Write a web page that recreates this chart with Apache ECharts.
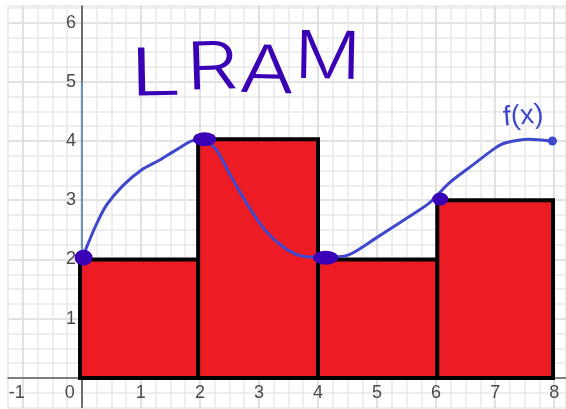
<!DOCTYPE html>
<html>
<head>
<meta charset="utf-8">
<style>html,body{margin:0;padding:0;background:#fff}#c{width:566px;height:409px}</style>
<script src="https://cdn.jsdelivr.net/npm/echarts@6/dist/echarts.min.js"></script>
</head>
<body>
<div id="c"></div>
<script>
const xTicks = [-1, 0, 1, 2, 3, 4, 5, 6, 7, 8];
const yTicks = [1, 2, 3, 4, 5, 6];
const rectStart = [-0.03, 1.97, 4, 6.02];
const rectEnd = [1.97, 4, 6.02, 7.98];
const rectHeight = [2, 4.03, 2, 3];
const curveX = [0, 0.12, 0.25, 0.42, 0.7, 1.01, 1.32, 1.6, 1.94, 2.1, 2.28, 2.5, 2.81, 3.1, 3.4, 3.68, 3.96, 4.25, 4.53, 4.98, 5.54, 5.88, 6.22, 6.6, 7.0, 7.18, 7.57, 7.95];
const curveY = [2, 2.3, 2.6, 2.92, 3.25, 3.51, 3.68, 3.85, 4.02, 4.0, 3.85, 3.45, 2.92, 2.5, 2.22, 2.07, 2.04, 2.04, 2.08, 2.36, 2.72, 2.95, 3.29, 3.58, 3.88, 3.97, 4.03, 4.0];
const blueSegmentX = [0, 0];
const blueSegmentY = [5, 2];
const penDotX = [0.03, 2.08, 4.13, 6.07];
const penDotY = [2.03, 4.03, 2.03, 3.02];
const endDot = [7.97, 4.0];
const titleLetters = ['L', 'R', 'A', 'M'];

const MINOR = '#e8e8e8', MAJOR = '#c0c0c0', LABEL = '#4a4a4a', PEN = '#3a00b5', CURVE = '#3f48cc';
const font = 'Liberation Sans';
const xR = {min: -1.25, max: 8.2}, yR = {min: -0.5, max: 6.28};
const letterBox = [[129, 43, 1.4, 0.02], [185, 37, 1.25, 0.03], [240, 39, 1.25, -0.03], [295, 25, 1.12, -0.02]];

const chart = echarts.init(document.getElementById('c'), null, {renderer: 'canvas'});
chart.setOption({
  animation: false,
  backgroundColor: '#fff',
  grid: {left: 8, right: 0, top: 6, bottom: 1.5, outerBoundsMode: 'none', containLabel: false},
  xAxis: [
    {type: 'value', ...xR, position: 'bottom', offset: -29.5,
     axisLine: {onZero: false, lineStyle: {color: '#5a5a5a', width: 1.5}},
     axisTick: {show: false, customValues: xTicks},
     splitLine: {show: true, lineStyle: {color: MAJOR, width: 1.6}},
     axisLabel: {customValues: xTicks, margin: 6, color: LABEL, fontFamily: font, fontSize: 18,
       showMinLabel: true, showMaxLabel: true, hideOverlap: false,
       formatter: v => v === 0 ? '{z|0}' : v === -1 ? '{n|-1}' : String(v),
       rich: {z: {padding: [0, 24, 0, 0], fontSize: 18, color: LABEL, fontFamily: font},
              n: {padding: [0, 12, 0, 0], fontSize: 18, color: LABEL, fontFamily: font}}}},
    {type: 'value', ...xR, interval: 0.25, z: 0,
     axisLine: {show: false}, axisTick: {show: false}, axisLabel: {show: false},
     splitLine: {show: true, lineStyle: {color: MINOR, width: 1.5}}}
  ],
  yAxis: [
    {type: 'value', ...yR, position: 'left', offset: -74,
     axisLine: {onZero: false, lineStyle: {color: '#444', width: 1.5}},
     axisTick: {show: false, customValues: yTicks},
     splitLine: {show: true, lineStyle: {color: MAJOR, width: 1.6}},
     axisLabel: {customValues: yTicks, margin: 6, color: LABEL, fontFamily: font, fontSize: 18, hideOverlap: false}},
    {type: 'value', ...yR, interval: 0.25,
     axisLine: {show: false}, axisTick: {show: false}, axisLabel: {show: false},
     splitLine: {show: true, lineStyle: {color: MINOR, width: 1.5}}}
  ],
  series: [
    {type: 'line', name: 'segment', data: blueSegmentX.map((x, i) => [x, blueSegmentY[i]]),
     symbol: 'none', lineStyle: {color: '#6f96bf', width: 2}, z: 3},
    {type: 'custom', name: 'LRAM rectangles', z: 4,
     data: rectStart.map((s, i) => [s, rectEnd[i], rectHeight[i]]),
     encode: {x: [0, 1], y: 2},
     renderItem: (p, api) => {
       const a = api.coord([api.value(0), api.value(2)]);
       const b = api.coord([api.value(1), 0]);
       return {type: 'rect', shape: {x: a[0], y: a[1], width: b[0] - a[0], height: b[1] - a[1]},
               style: {fill: '#ed1c24', stroke: '#000', lineWidth: 4}};
     }},
    {type: 'line', name: 'f(x)', data: curveX.map((x, i) => [x, curveY[i]]), smooth: 0.3,
     symbol: 'none', lineStyle: {color: CURVE, width: 3}, z: 5},
    {type: 'scatter', name: 'end', data: [endDot], symbol: 'circle', symbolSize: 9,
     itemStyle: {color: CURVE, opacity: 1}, z: 6},
    {type: 'scatter', name: 'left endpoints', z: 7,
     data: penDotX.map((x, i) => [x, penDotY[i]]),
     symbol: 'circle', symbolSize: (v, p) => [[18, 16], [23, 14], [25, 14], [16, 13]][p.dataIndex],
     itemStyle: {color: PEN, opacity: 1}}
  ],
  graphic: titleLetters.map((ch, i) => ({
      type: 'text', x: letterBox[i][0], y: letterBox[i][1], scaleX: letterBox[i][2], rotation: letterBox[i][3], z: 20,
      style: {text: ch, fill: PEN, font: '300 66px "Inter"'}
    })).concat([
    {type: 'text', x: 502, y: 104, rotation: 0.08, z: 20,
     style: {text: 'f(x)', fill: CURVE, font: '28px "Liberation Sans"'}}
  ])
});
</script>
</body>
</html>
